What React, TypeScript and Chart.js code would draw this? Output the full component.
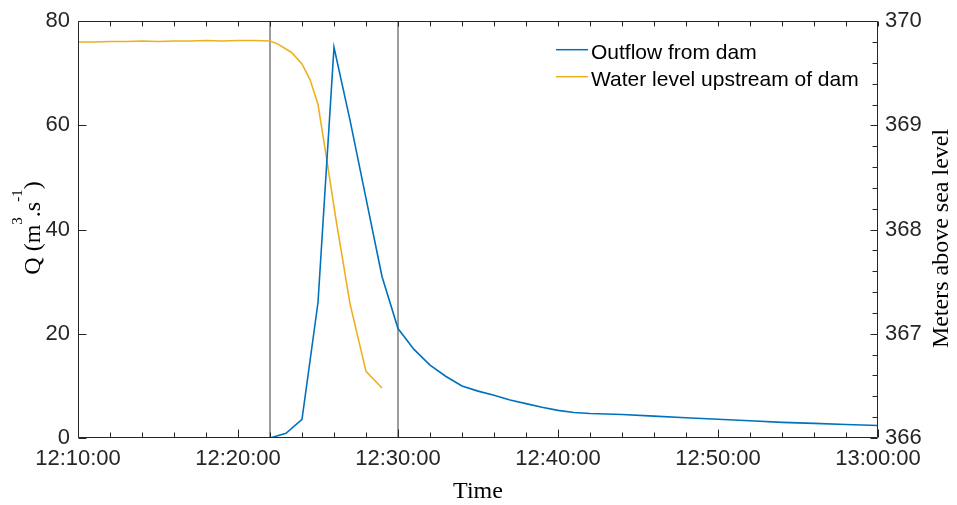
import React, { useEffect, useRef } from 'react';
import { Chart, registerables } from 'chart.js';

Chart.register(...registerables);

// Time values are minutes after 12:00:00
const outflowMin = [22, 23, 24, 25, 26, 27, 28, 29, 30, 31, 32, 33, 34, 35, 36, 37, 38, 39, 40, 41, 42, 44, 46, 48, 50, 52, 54, 56, 58, 60];
const outflowQ = [0, 0.9, 3.6, 26, 75, 61, 46, 31, 21, 17, 14, 11.8, 10, 9, 8.2, 7.3, 6.6, 5.9, 5.3, 4.9, 4.7, 4.5, 4.2, 3.9, 3.6, 3.3, 3.0, 2.8, 2.6, 2.4];

const levelMin = [10, 11, 12, 13, 14, 15, 16, 17, 18, 19, 20, 21, 22, 22.5, 23.35, 24, 24.5, 25, 25.5, 26.1, 27, 28, 29];
const levelM = [369.80, 369.80, 369.805, 369.805, 369.81, 369.805, 369.81, 369.81, 369.815, 369.81, 369.815, 369.815, 369.81, 369.78, 369.70, 369.59, 369.44, 369.20, 368.72, 368.12, 367.29, 366.64, 366.48];

const markerMin = [22, 30];
const qRange = [0, 80];
const levelRange = [366, 370];
const timeRange = [10, 60];
const qTicks = [0, 20, 40, 60, 80];

const seriesNames = ['Outflow from dam', 'Water level upstream of dam'];
const seriesColors = ['#0072BD', '#EDB120'];

const xTitle = 'Time';
const rightTitle = 'Meters above sea level';

function fmtTime(m: number): string {
  const h = 12 + Math.floor(m / 60);
  const mm = Math.round(m % 60);
  return `${h}:${String(mm).padStart(2, '0')}:00`;
}

const SANS = '"Liberation Sans", Arial, sans-serif';
const SERIF = '"Liberation Serif", "Times New Roman", serif';
const AXIS = '#262626';

const decorPlugin = {
  id: 'decor',
  afterDatasetsDraw(chart: any) {
    const { ctx, chartArea: a, scales } = chart;
    const L = Math.round(a.left) + 0.5;
    const R = Math.round(a.right) - 0.5;
    const T = Math.round(a.top) + 0.5;
    const B = Math.round(a.bottom) - 0.5;
    ctx.save();
    ctx.strokeStyle = AXIS;
    ctx.lineWidth = 1;
    ctx.beginPath();
    ctx.rect(L, T, R - L, B - T);
    // x ticks, bottom and top
    for (let m = timeRange[0]; m <= timeRange[1]; m += 2) {
      const x = Math.round(scales.x.getPixelForValue(m)) + 0.5;
      const len = m % 10 === 0 ? 8 : 5;
      ctx.moveTo(x, B);
      ctx.lineTo(x, B - len);
      ctx.moveTo(x, T);
      ctx.lineTo(x, T + 5);
    }
    // left ticks
    for (const v of qTicks) {
      const y = Math.round(scales.y.getPixelForValue(v)) + 0.5;
      ctx.moveTo(L, y);
      ctx.lineTo(L + 8, y);
    }
    // right ticks
    for (let i = 0; i <= 20; i++) {
      const v = levelRange[0] + i * 0.2;
      const y = Math.round(scales.y2.getPixelForValue(v)) + 0.5;
      const len = i % 5 === 0 ? 7 : 5;
      ctx.moveTo(R, y);
      ctx.lineTo(R - len, y);
    }
    ctx.stroke();

    // titles
    ctx.fillStyle = '#000';
    ctx.font = `24px ${SERIF}`;
    ctx.textAlign = 'center';
    ctx.textBaseline = 'alphabetic';
    ctx.fillText(xTitle, (a.left + a.right) / 2, 498);

    // right title
    ctx.save();
    ctx.translate(948, 238.5);
    ctx.rotate(-Math.PI / 2);
    ctx.fillText(rightTitle, 0, 0);
    ctx.restore();

    // left title with superscripts
    const parts: [string, boolean][] = [['Q (m', false], ['3', true], ['.s', false], ['-1', true], [')', false]];
    const mainFont = `24px ${SERIF}`;
    const supFont = `15px ${SERIF}`;
    let total = 0;
    for (const [t, sup] of parts) {
      ctx.font = sup ? supFont : mainFont;
      total += ctx.measureText(t).width;
    }
    ctx.save();
    ctx.translate(40, 228);
    ctx.rotate(-Math.PI / 2);
    ctx.textAlign = 'left';
    let cx = -total / 2;
    for (const [t, sup] of parts) {
      ctx.font = sup ? supFont : mainFont;
      ctx.fillText(t, cx, sup ? -18 : 0);
      cx += ctx.measureText(t).width;
    }
    ctx.restore();

    // legend
    ctx.font = `21px ${SANS}`;
    ctx.textAlign = 'left';
    ctx.lineWidth = 1.5;
    seriesNames.forEach((name, i) => {
      const y = 49.7 + i * 27;
      ctx.strokeStyle = seriesColors[i];
      ctx.beginPath();
      ctx.moveTo(556, y);
      ctx.lineTo(588, y);
      ctx.stroke();
      ctx.fillStyle = '#000';
      ctx.fillText(name, 591, y + 9.5);
    });
    ctx.restore();
  },
};

export default function App() {
  const ref = useRef<HTMLCanvasElement>(null);
  useEffect(() => {
    document.body.style.margin = '0';
    const canvas = ref.current!;
    const datasets: any[] = [
      {
        label: seriesNames[0],
        data: outflowMin.map((m, i) => ({ x: m, y: outflowQ[i] })),
        borderColor: seriesColors[0],
        borderWidth: 1.6,
        pointRadius: 0,
        yAxisID: 'y',
        order: 1,
      },
      {
        label: seriesNames[1],
        data: levelMin.map((m, i) => ({ x: m, y: levelM[i] })),
        borderColor: seriesColors[1],
        borderWidth: 1.6,
        pointRadius: 0,
        yAxisID: 'y2',
        order: 2,
      },
      ...markerMin.map((m) => ({
        label: 'marker',
        data: [{ x: m, y: qRange[0] }, { x: m, y: qRange[1] }],
        borderColor: '#3a3a3a',
        borderWidth: 1,
        pointRadius: 0,
        yAxisID: 'y',
        order: 3,
      })),
    ];
    const tickFont = { family: SANS, size: 22 };
    const chart = new Chart(canvas, {
      type: 'line',
      data: { datasets },
      plugins: [decorPlugin],
      options: {
        animation: false,
        responsive: false,
        maintainAspectRatio: false,
        layout: { padding: { top: 20, left: 0, right: 0, bottom: 0 } },
        plugins: { legend: { display: false }, tooltip: { enabled: false } },
        scales: {
          x: {
            type: 'linear',
            min: timeRange[0],
            max: timeRange[1],
            grid: { display: false, drawTicks: false },
            border: { display: false },
            afterFit: (s: any) => { s.height = 67; },
            ticks: {
              stepSize: 10,
              autoSkip: false,
              maxRotation: 0,
              padding: 8,
              color: AXIS,
              font: tickFont,
              callback: (v: any) => fmtTime(Number(v)),
            },
          },
          y: {
            position: 'left',
            min: qRange[0],
            max: qRange[1],
            grid: { display: false, drawTicks: false },
            border: { display: false },
            afterFit: (s: any) => { s.width = 78; },
            ticks: { stepSize: 20, padding: 8, color: AXIS, font: tickFont },
          },
          y2: {
            position: 'right',
            min: levelRange[0],
            max: levelRange[1],
            grid: { display: false, drawTicks: false },
            border: { display: false },
            afterFit: (s: any) => { s.width = 79; },
            ticks: { stepSize: 1, padding: 7, color: AXIS, font: tickFont },
          },
        },
      },
    });
    return () => chart.destroy();
  }, []);
  return (
    <div style={{ width: 957, height: 505 }}>
      <canvas ref={ref} width={957} height={505} style={{ display: 'block' }} />
    </div>
  );
}
